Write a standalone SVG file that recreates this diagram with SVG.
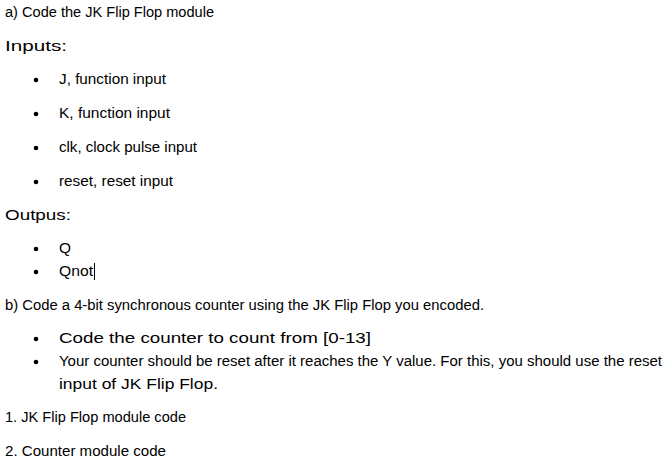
<svg xmlns="http://www.w3.org/2000/svg" width="667" height="461" viewBox="0 0 667 461">
<style>
text{font-family:"Liberation Sans",Arial,sans-serif;font-size:14px;fill:#000}
.b{fill:#000}
</style>
<rect width="667" height="461" fill="#fff"/>
<text x="5" y="17" textLength="209" lengthAdjust="spacingAndGlyphs">a) Code the JK Flip Flop module</text>
<text x="5" y="51" textLength="62" lengthAdjust="spacingAndGlyphs">Inputs:</text>
<g class="b">
<circle cx="36" cy="80" r="2.3"/><circle cx="36" cy="114" r="2.3"/><circle cx="36" cy="148" r="2.3"/><circle cx="36" cy="182" r="2.3"/>
<circle cx="36" cy="249" r="2.3"/><circle cx="36" cy="272" r="2.3"/>
<circle cx="36" cy="339" r="2.3"/><circle cx="36" cy="362" r="2.3"/>
</g>
<text x="59" y="84" textLength="107" lengthAdjust="spacingAndGlyphs">J, function input</text>
<text x="59" y="118" textLength="111" lengthAdjust="spacingAndGlyphs">K, function input</text>
<text x="59" y="152" textLength="138" lengthAdjust="spacingAndGlyphs">clk, clock pulse input</text>
<text x="59" y="186" textLength="114" lengthAdjust="spacingAndGlyphs">reset, reset input</text>
<text x="5" y="220" textLength="66" lengthAdjust="spacingAndGlyphs">Outpus:</text>
<text x="59" y="253" textLength="12" lengthAdjust="spacingAndGlyphs">Q</text>
<text x="59" y="276" textLength="34" lengthAdjust="spacingAndGlyphs">Qnot</text>
<line x1="94.5" y1="263" x2="94.5" y2="280" stroke="#000" stroke-width="1"/>
<text x="5" y="310" textLength="479" lengthAdjust="spacingAndGlyphs">b) Code a 4-bit synchronous counter using the JK Flip Flop you encoded.</text>
<text x="59" y="343" textLength="312" lengthAdjust="spacingAndGlyphs">Code the counter to count from [0-13]</text>
<text x="59" y="366" textLength="603" lengthAdjust="spacingAndGlyphs">Your counter should be reset after it reaches the Y value. For this, you should use the reset</text>
<text x="59" y="389" textLength="159" lengthAdjust="spacingAndGlyphs">input of JK Flip Flop.</text>
<text x="5" y="422" textLength="181" lengthAdjust="spacingAndGlyphs">1. JK Flip Flop module code</text>
<text x="5" y="456" textLength="161" lengthAdjust="spacingAndGlyphs">2. Counter module code</text>
</svg>
